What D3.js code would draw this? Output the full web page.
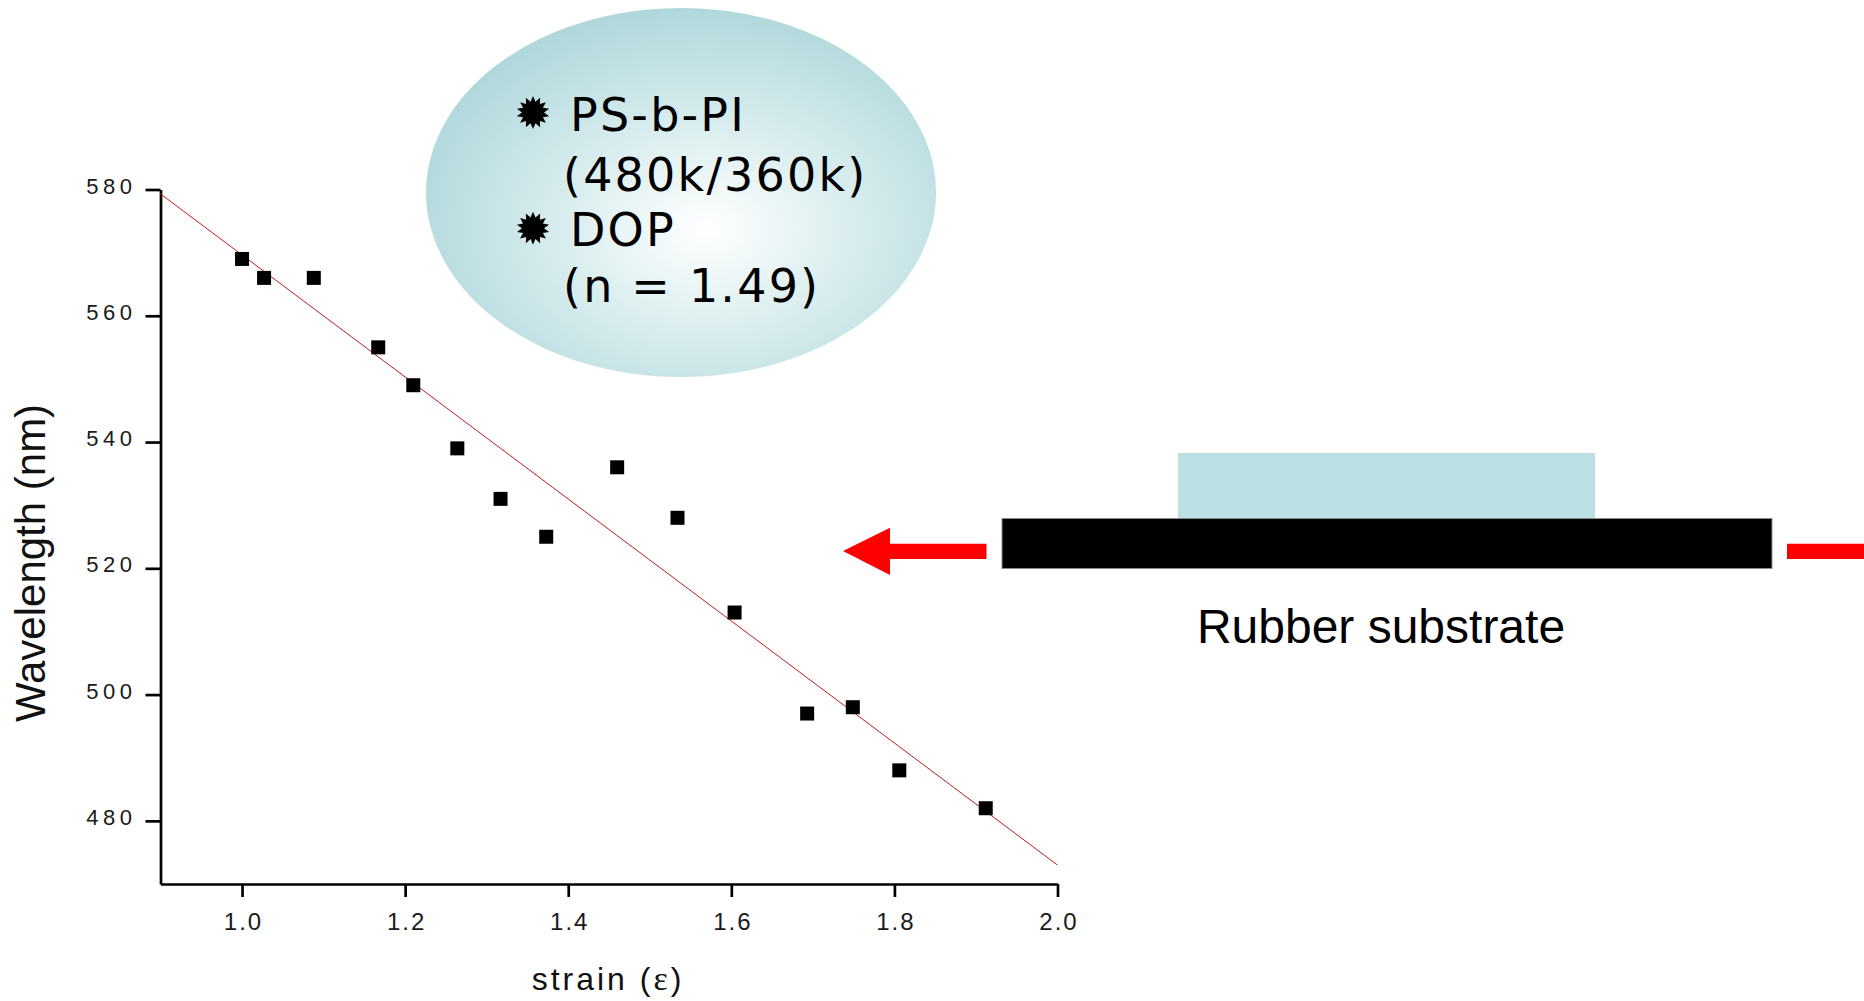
<!DOCTYPE html>
<html>
<head>
<meta charset="utf-8">
<script src="https://cdn.jsdelivr.net/npm/d3@7"></script>
<style>
  body { margin: 0; background: #fff; }
  svg { display: block; }
  .tick text { font-family: "Liberation Sans", Arial, sans-serif; fill: #1a1a1a; }
</style>
</head>
<body>
<svg id="svg" width="1864" height="1001"></svg>
<script>
// measured points
var strain = [1.00, 1.027, 1.088, 1.167, 1.210, 1.264, 1.317, 1.373, 1.460, 1.534, 1.604, 1.693, 1.749, 1.806, 1.912];
var wavelength = [569, 566, 566, 555, 549, 539, 531, 525, 536, 528, 513, 497, 498, 488, 482];

// linear fit, end points
var fitX = [0.9, 2.0];
var fitY = [579.3, 473.0];

var xMajor = [1.0, 1.2, 1.4, 1.6, 1.8, 2.0];
var xMinor = [0.9, 1.1, 1.3, 1.5, 1.7, 1.9];
var yMajor = [480, 500, 520, 540, 560, 580];
var yMinor = [470, 490, 510, 530, 550, 570];

var noteLines = ["PS-b-PI", "(480k/360k)", "DOP", "(n = 1.49)"];

var svg = d3.select("#svg");

var x = d3.scaleLinear().domain([0.9, 2.0]).range([160.5, 1057.5]);
var y = d3.scaleLinear().domain([470, 580]).range([884, 189.5]);

// ---- axes
var gy = svg.append("g").attr("transform", "translate(" + x(0.9) + ",0)");
gy.call(d3.axisLeft(y).tickValues(yMinor).tickSize(8).tickSizeOuter(0).tickFormat(""));
gy.call(d3.axisLeft(y).tickValues(yMajor).tickSize(15).tickSizeOuter(0).tickPadding(9).tickFormat(d3.format("d")));
gy.selectAll("text")
    .attr("font-size", 22)
    .attr("letter-spacing", "4.5px")
    .attr("dy", "0.16em");

var gx = svg.append("g").attr("transform", "translate(0," + y(470) + ")");
gx.call(d3.axisBottom(x).tickValues(xMinor).tickSize(8).tickSizeOuter(0).tickFormat(""));
gx.call(d3.axisBottom(x).tickValues(xMajor).tickSize(13).tickSizeOuter(0).tickPadding(16).tickFormat(d3.format(".1f")));
gx.selectAll("text")
    .attr("font-size", 24)
    .attr("letter-spacing", "2px")
    .attr("dx", "1px");

svg.selectAll(".domain, .tick line")
    .attr("stroke", "#000")
    .attr("stroke-width", 2.7);

// axis titles
svg.append("text")
    .attr("transform", "translate(45," + 563 + ") rotate(-90)")
    .attr("text-anchor", "middle")
    .attr("font-family", "Liberation Sans, Arial, sans-serif")
    .attr("font-size", 42)
    .attr("fill", "#111")
    .text("Wavelength (nm)");

var xt = svg.append("text")
    .attr("x", 608)
    .attr("y", 990)
    .attr("text-anchor", "middle")
    .attr("font-family", "Liberation Sans, Arial, sans-serif")
    .attr("font-size", 32)
    .attr("letter-spacing", "3px")
    .attr("fill", "#111");
xt.append("tspan").text("strain (");
xt.append("tspan").attr("font-family", "Liberation Serif, serif").attr("font-size", 34).text("\u03b5");
xt.append("tspan").text(")");

// ---- fit line
var line = d3.line().x(function(d) { return x(d[0]); }).y(function(d) { return y(d[1]); });
svg.append("path")
    .datum(d3.zip(fitX, fitY))
    .attr("d", line)
    .attr("fill", "none")
    .attr("stroke", "#c41a1a")
    .attr("stroke-width", 1);

// ---- points
var sq = 14;
svg.append("g").selectAll("rect")
    .data(d3.zip(strain, wavelength))
  .enter().append("rect")
    .attr("x", function(d) { return x(d[0]) - sq / 2; })
    .attr("y", function(d) { return y(d[1]) - sq / 2; })
    .attr("width", sq)
    .attr("height", sq)
    .attr("fill", "#000");

// ---- note bubble
var defs = svg.append("defs");
var grad = defs.append("radialGradient")
    .attr("id", "bubble")
    .attr("cx", "0.55").attr("cy", "0.6").attr("r", "0.6");
grad.append("stop").attr("offset", "0").attr("stop-color", "#ffffff");
grad.append("stop").attr("offset", "0.4").attr("stop-color", "#dff0f1");
grad.append("stop").attr("offset", "1").attr("stop-color", "#b0d8dc");

svg.append("ellipse")
    .attr("cx", 681).attr("cy", 192.5)
    .attr("rx", 255).attr("ry", 184.5)
    .attr("fill", "url(#bubble)");

var noteX = [570, 563, 570, 563];
var noteY = [131, 191, 246, 302];
svg.append("g").selectAll("text")
    .data(noteLines)
  .enter().append("text")
    .attr("x", function(d, i) { return noteX[i]; })
    .attr("y", function(d, i) { return noteY[i]; })
    .attr("font-family", "DejaVu Sans, Verdana, sans-serif")
    .attr("font-size", 46)
    .attr("letter-spacing", "2.2px")
    .attr("fill", "#000")
    .text(function(d) { return d; });

function star(cx, cy, n, r1, r2) {
  var pts = [];
  for (var i = 0; i < n * 2; i++) {
    var a = Math.PI * i / n - Math.PI / 2;
    var r = i % 2 ? r2 : r1;
    pts.push([cx + r * Math.cos(a), cy + r * Math.sin(a)]);
  }
  return "M" + pts.join("L") + "Z";
}
[112.5, 228.3].forEach(function(cy) {
  svg.append("path").attr("d", star(533, cy, 14, 16.5, 11)).attr("fill", "#000");
});

// ---- rubber substrate sketch
svg.append("rect")
    .attr("x", 1178).attr("y", 453).attr("width", 417).attr("height", 66)
    .attr("fill", "#bbe0e3");
svg.append("rect")
    .attr("x", 1002).attr("y", 518.5).attr("width", 770).attr("height", 50)
    .attr("fill", "#000").attr("stroke", "#8a8a8a").attr("stroke-width", 1);

// arrows
svg.append("path")
    .attr("d", "M843,551 L890,527.7 L890,543.7 L986.5,543.7 L986.5,559 L890,559 L890,575 Z")
    .attr("fill", "#ff0000");
svg.append("path")
    .attr("d", "M1787,543.7 L1900,543.7 L1900,559 L1787,559 Z")
    .attr("fill", "#ff0000");

svg.append("text")
    .attr("x", 1381).attr("y", 643)
    .attr("text-anchor", "middle")
    .attr("font-family", "Liberation Sans, Arial, sans-serif")
    .attr("font-size", 48)
    .attr("fill", "#000")
    .text("Rubber substrate");
</script>
</body>
</html>
